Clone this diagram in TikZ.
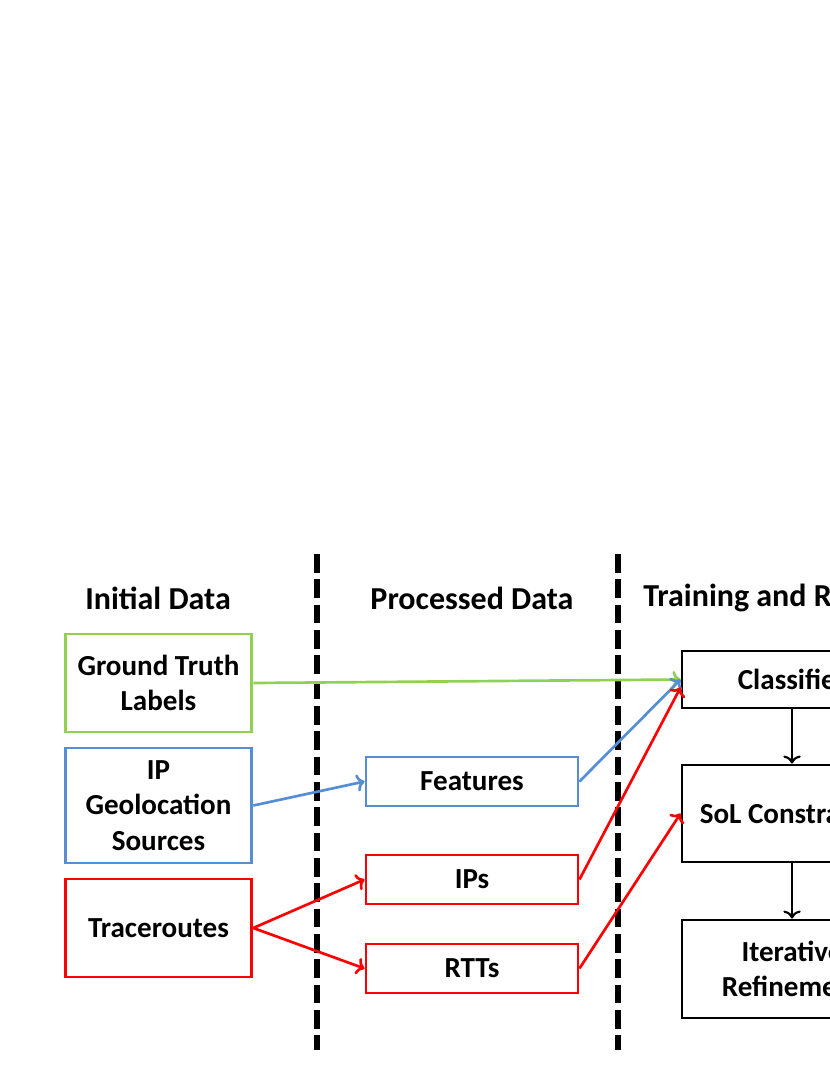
\documentclass[tikz,border=0pt]{standalone}
\usepackage{fontspec}
\setmainfont{Carlito}
\usetikzlibrary{arrows.meta}
\definecolor{gtgreen}{HTML}{92D050}
\definecolor{geoblue}{HTML}{558ED5}
\definecolor{trred}{HTML}{FF0000}
\tikzset{
  lbl/.style={font=\bfseries\fontsize{21.8}{26.5}\selectfont,align=center,inner sep=0pt},
  head/.style={lbl,font=\bfseries\fontsize{24}{28}\selectfont},
  box/.style={lbl,draw,line width=2.2pt},
  srcbox/.style={box,minimum width=140pt,minimum height=73.5pt},
  procbox/.style={box,minimum width=159pt,minimum height=36.75pt},
  trainbox/.style={box,minimum width=165pt},
  link/.style={line width=2pt,-{To[length=6pt,width=13pt]}},
  divider/.style={line width=4.5pt,dash pattern=on 14pt off 5pt},
}
\begin{document}
\begin{tikzpicture}[x=0.75pt,y=-0.75pt]
\clip (0,0) rectangle (830,1075);

\node[head] (hinit) at (158,598) {Initial Data};
\node[head] (hproc) at (472,598) {Processed Data};
\node[head,anchor=west] (htrain) at (643,598) {Training and Refinement};

\draw[divider] (317,554)--(317,1050);
\draw[divider] (618,554)--(618,1050);

% initial data
\node[srcbox,draw=gtgreen] (gt) at (158.5,683) {Ground Truth\\Labels};
\node[srcbox,draw=geoblue,minimum height=86.25pt] (geo) at (158.5,805.5) {IP\\Geolocation\\Sources};
\node[srcbox,draw=trred] (trace) at (158.5,928) {Traceroutes};

% processed data
\node[procbox,draw=geoblue] (feat) at (472,781.5) {Features};
\node[procbox,draw=trred] (ips) at (472,879.5) {IPs};
\node[procbox,draw=trred] (rtts) at (472,968.5) {RTTs};

% training and refinement
\node[trainbox,minimum height=42.75pt] (cls) at (792,679.5) {Classifier};
\node[trainbox,minimum height=72.75pt] (sol) at (792,813.5) {SoL Constraints};
\node[trainbox,minimum height=73.5pt] (iter) at (792,969) {Iterative\\Refinement};

\draw[link,gtgreen] (gt.east)--(cls.west);
\draw[link,geoblue] (geo.east)--(feat.west);
\draw[link,geoblue] (feat.east)--(cls.west);
\draw[link,trred] (trace.east)--(ips.west);
\draw[link,trred] (trace.east)--(rtts.west);
\draw[link,trred] (ips.east)--([yshift=-6pt]cls.west);
\draw[link,trred] (rtts.east)--(sol.west);

\draw[link,line width=1.6pt] (cls.south)--(sol.north);
\draw[link,line width=1.6pt] (sol.south)--(iter.north);
\end{tikzpicture}
\end{document}
